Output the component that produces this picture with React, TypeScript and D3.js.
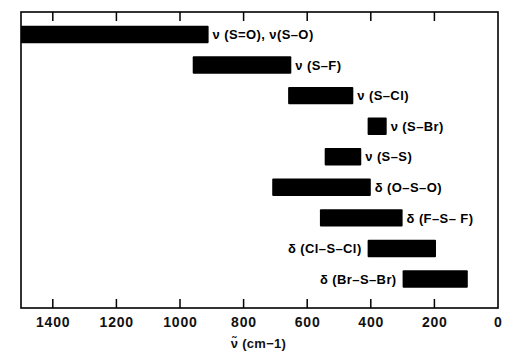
import React from "react";
import * as d3 from "d3";

const categories = [
  "ν (S=O), ν(S–O)",
  "ν (S–F)",
  "ν (S–Cl)",
  "ν (S–Br)",
  "ν (S–S)",
  "δ (O–S–O)",
  "δ (F–S– F)",
  "δ (Cl–S–Cl)",
  "δ (Br–S–Br)",
];
const rangeHigh = [1500, 960, 660, 410, 545, 710, 560, 410, 300];
const rangeLow = [910, 650, 455, 350, 430, 400, 300, 195, 95];
const labelSide = ["right", "right", "right", "right", "right", "right", "right", "left", "left"];
const tickValues = [1400, 1200, 1000, 800, 600, 400, 200, 0];
const axisTitle = "ν̃ (cm−1)";

const W = 514;
const H = 359;
const left = 21;
const right = 498;
const top = 12;
const bottom = 308;

export default function App() {
  const x = d3.scaleLinear().domain([1500, 0]).range([left, right]);
  const y = d3
    .scaleBand<string>()
    .domain(categories)
    .range([19.2, 294.3])
    .paddingInner(0.43)
    .paddingOuter(0.215);
  const bw = y.bandwidth();
  const font = "'Liberation Sans', Arial, Helvetica, sans-serif";
  return (
    <svg width={W} height={H} style={{ position: "absolute", left: 0, top: 0, background: "#fff" }}>
      <rect x={0} y={0} width={W} height={H} fill="#fff" />
      {categories.map((c, i) => {
        const x0 = x(rangeHigh[i]);
        const x1 = x(rangeLow[i]);
        const yy = y(c)!;
        const side = labelSide[i];
        return (
          <g key={c}>
            <rect x={x0} y={yy} width={x1 - x0} height={bw} fill="#000" rx={1} />
            <text
              x={side === "right" ? x1 + 4 : x0 - 6}
              y={yy + bw / 2}
              dy="0.36em"
              textAnchor={side === "right" ? "start" : "end"}
              fontFamily={font}
              fontWeight="bold"
              fontSize={13}
              letterSpacing={0.4}
              fill="#000"
            >
              {c}
            </text>
          </g>
        );
      })}
      <rect x={left} y={top} width={right - left} height={bottom - top} fill="none" stroke="#000" strokeWidth={1.6} />
      {tickValues.map((t) => (
        <g key={t}>
          {t !== 0 && (
            <>
              <line x1={x(t)} x2={x(t)} y1={top} y2={top + 9} stroke="#000" strokeWidth={1.5} />
              <line x1={x(t)} x2={x(t)} y1={bottom} y2={bottom - 9} stroke="#000" strokeWidth={1.5} />
            </>
          )}
          <text
            x={x(t) + 0.4}
            y={327}
            textAnchor="middle"
            fontFamily={font}
            fontWeight="bold"
            fontSize={14}
            letterSpacing={0.8}
            fill="#111"
          >
            {t}
          </text>
        </g>
      ))}
      <text
        x={(left + right) / 2 - 1}
        y={348}
        textAnchor="middle"
        fontFamily={font}
        fontWeight="bold"
        fontSize={13}
        letterSpacing={0.3}
        fill="#111"
      >
        {axisTitle}
      </text>
    </svg>
  );
}
